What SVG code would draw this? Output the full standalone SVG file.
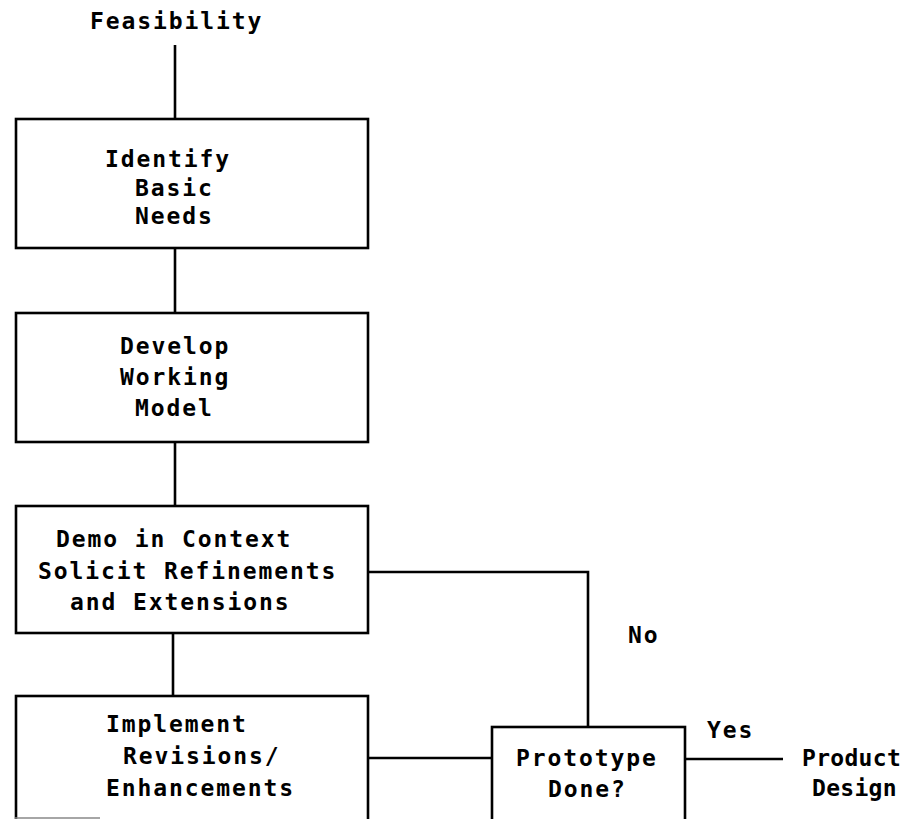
<svg xmlns="http://www.w3.org/2000/svg" width="919" height="819" viewBox="0 0 919 819">
<style>
.bx{fill:#fff;stroke:#000;stroke-width:2.6}
.ln{fill:none;stroke:#000;stroke-width:2.6}
text{font-family:"DejaVu Sans Mono","Liberation Mono",monospace;font-weight:bold;font-size:23px;letter-spacing:1.9px;fill:#000}
text.tight{letter-spacing:0.3px}
</style>
<rect width="919" height="819" fill="#fff"/>
<g id="connectors">
<line class="ln" x1="175" y1="45" x2="175" y2="119"/>
<line class="ln" x1="175" y1="248" x2="175" y2="313"/>
<line class="ln" x1="175" y1="442" x2="175" y2="506"/>
<line class="ln" x1="173" y1="633" x2="173" y2="696"/>
<polyline class="ln" points="368,572 588,572 588,727"/>
<line class="ln" x1="368" y1="758" x2="492" y2="758"/>
<line class="ln" x1="685" y1="759" x2="783" y2="759"/>
</g>
<g id="feasibility"><text x="90" y="29">Feasibility</text></g>
<g id="identify">
<rect class="bx" x="16" y="119" width="352" height="129"/>
<text x="105" y="167">Identify</text>
<text x="135" y="196">Basic</text>
<text x="135" y="224">Needs</text>
</g>
<g id="develop">
<rect class="bx" x="16" y="313" width="352" height="129"/>
<text x="120" y="354">Develop</text>
<text x="120" y="385">Working</text>
<text x="135" y="416">Model</text>
</g>
<g id="demo">
<rect class="bx" x="16" y="506" width="352" height="127"/>
<text x="56" y="547">Demo in Context</text>
<text x="38" y="579">Solicit Refinements</text>
<text x="70" y="610">and Extensions</text>
</g>
<g id="implement">
<rect class="bx" x="16" y="696" width="352" height="140"/>
<text x="106" y="732">Implement</text>
<text x="123" y="764">Revisions/</text>
<text x="106" y="796">Enhancements</text>
</g>
<g id="prototype">
<rect class="bx" x="492" y="727" width="193" height="110"/>
<text x="516" y="766">Prototype</text>
<text x="548" y="797">Done?</text>
</g>
<g id="labels">
<text x="628" y="643">No</text>
<text x="707" y="738">Yes</text>
</g>
<g id="product">
<text class="tight" x="802" y="766">Product</text>
<text class="tight" x="812" y="796">Design</text>
</g>
<line x1="15" y1="818" x2="100" y2="818" stroke="#888" stroke-width="1.5"/>
</svg>
